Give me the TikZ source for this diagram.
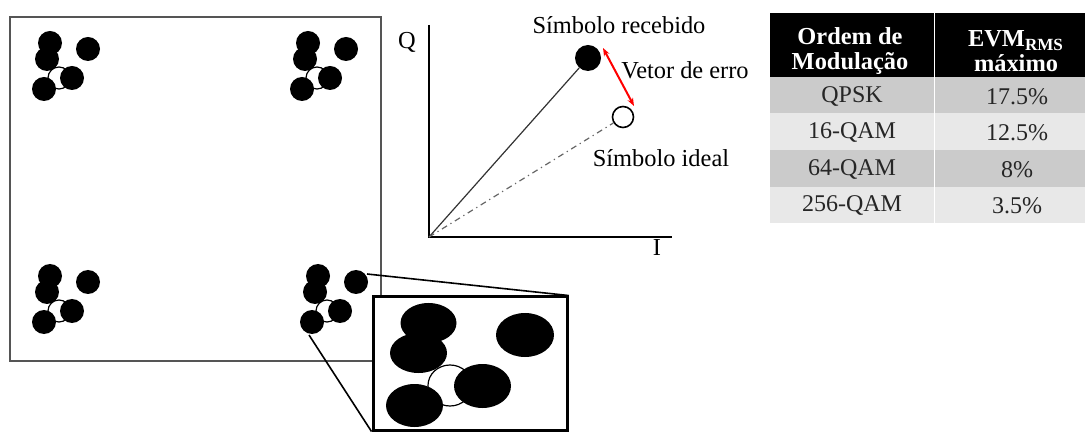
\documentclass[tikz,border=0pt]{standalone}
\usepackage{fontspec}
\setmainfont{Liberation Serif}
\usetikzlibrary{arrows.meta}
\definecolor{linhacinza}{HTML}{555555}
\definecolor{celescura}{HTML}{CBCBCB}
\definecolor{celclara}{HTML}{E8E8E8}
\tikzset{
    texto/.style={font=\fontsize{12.2}{12.2}\selectfont, inner sep=0pt},
    cabecalho/.style={font=\bfseries\fontsize{12.2}{12.2}\selectfont, text=white, align=center, inner sep=0pt},
    celula/.style={font=\fontsize{12}{12}\selectfont, text=black!85, inner sep=0pt},
}
\begin{document}
\begin{tikzpicture}[x=0.5pt,y=-0.5pt]
        \useasboundingbox (0,0) rectangle (1085,432);

        % constelacao recebida
        \draw[linhacinza, line width=0.8pt] (10,17) rectangle (381,361);
        \foreach \dx/\dy in {0/0, 258/0, 0/233, 268/233} {
            \begin{scope}[shift={(\dx,\dy)}]
                \draw[line width=0.6pt] (59,78) circle[radius=11];
                \foreach \px/\py in {50/43, 47/59, 88/49, 72/78, 44/89} {
                    \fill (\px,\py) circle[radius=12];
                }
            \end{scope}
        }

        % lupa
        \coordinate (lupaA) at (367,274);
        \coordinate (lupaB) at (309,335);
        \node[draw, line width=1.5pt, fill=white, inner sep=0pt, minimum width=97pt, minimum height=66.5pt] (lupa) at (470,363.5) {};
        \draw[line width=0.8pt] (lupaA) -- (lupa.north east);
        \draw[line width=0.8pt] (lupaB) -- (lupa.south west);
        \draw[line width=0.6pt] (450,385.5) ellipse[x radius=22, y radius=20.5];
        \foreach \cx/\cy/\rx/\ry in {428.5/323/28/20, 418.5/353/28.5/20, 525/335/29/22, 482.5/386/28.5/22, 414.5/405.5/28.5/21.5} {
            \fill (\cx,\cy) ellipse[x radius=\rx, y radius=\ry];
        }

        % diagrama I/Q
        \coordinate (origem) at (429,237);
        \coordinate (topoQ) at (429,25);
        \coordinate (fimI) at (672,237);
        \draw[line width=1pt] (topoQ) -- (origem) -- (fimI);
        \node[texto] (eixoQ) at (407,42) {Q};
        \node[texto] (eixoI) at (657,248) {I};
        \node[circle, fill=black, inner sep=0pt, minimum size=13pt] (recebido) at (588,58) {};
        \node[circle, draw, line width=0.8pt, inner sep=0pt, minimum size=10.5pt] (ideal) at (623,117) {};
        \draw[black!80, line width=0.6pt] (origem) -- (recebido);
        \draw[black!60, line width=0.6pt, dash dot] (origem) -- (ideal);
        \coordinate (erro1) at (603,48);
        \coordinate (erro2) at (634,106);
        \draw[red, line width=1pt, {Stealth[length=4pt]}-{Stealth[length=4pt]}] (erro1) -- (erro2);
        \node[texto] (txtrecebido) at (619,25) {Símbolo recebido};
        \node[texto] (txterro) at (685,70) {Vetor de erro};
        \node[texto] (txtideal) at (661,158) {Símbolo ideal};

        % tabela
        \fill[black] (770,13) rectangle (1085,77);
        \fill[celescura] (770,77) rectangle (1085,113);
        \fill[celclara] (770,113) rectangle (1085,150);
        \fill[celescura] (770,150) rectangle (1085,187);
        \fill[celclara] (770,187) rectangle (1085,223);
        \draw[white, line width=0.5pt] (934,13) -- (934,223);
        \node[cabecalho] (cab1) at (850,51) {Ordem de\\Modulação};
        \node[cabecalho] (cab2) at (1016,51) {EVM\textsubscript{RMS}\\máximo};
        \foreach \ordem/\evm [count=\i] in {QPSK/17.5\%, 16-QAM/12.5\%, 64-QAM/8\%, 256-QAM/3.5\%} {
            \node[celula] (ordem\i) at (852,60+36.5*\i) {\ordem};
            \node[celula] (evm\i) at (1017,60+36.5*\i) {\evm};
        }
    \end{tikzpicture}
\end{document}
